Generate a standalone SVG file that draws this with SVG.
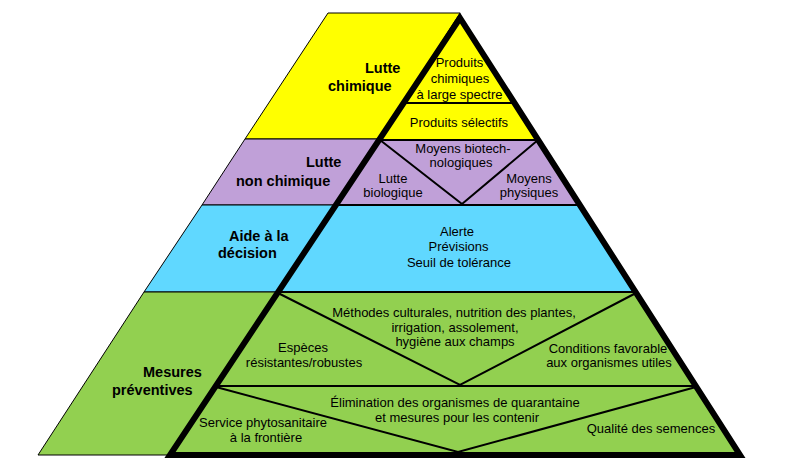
<svg xmlns="http://www.w3.org/2000/svg" width="800" height="471" viewBox="0 0 800 471">
<style>
.back{stroke:#000;stroke-width:1;stroke-linejoin:miter}
.y{fill:#FFFF00}
.p{fill:#C0A0D8}
.b{fill:#60D8FF}
.g{fill:#92D050}
.ln{stroke:#000;stroke-width:2;fill:none}
.edge{stroke:#000;stroke-width:6;fill:none;stroke-linejoin:miter;stroke-miterlimit:10}
.tb{font-family:"Liberation Sans",Arial,sans-serif;font-size:14.5px;font-weight:bold;fill:#000}
.t{font-family:"Liberation Sans",Arial,sans-serif;font-size:13px;fill:#000;text-anchor:middle}
</style>
<rect width="800" height="471" fill="#fff"/>
<g id="back">
  <g id="back-chimique">
    <polygon class="back y" points="328,13 460,13 380,139 245,139"/>
    <text class="tb" x="365" y="73">Lutte</text>
    <text class="tb" x="328" y="91">chimique</text>
  </g>
  <g id="back-nonchimique">
    <polygon class="back p" points="245,139 380,139 336,205 202,205"/>
    <text class="tb" x="306" y="167">Lutte</text>
    <text class="tb" x="236" y="186">non chimique</text>
  </g>
  <g id="back-decision">
    <polygon class="back b" points="202,205 336,205 278,292 144,292"/>
    <text class="tb" x="229" y="241">Aide à la</text>
    <text class="tb" x="218" y="258">décision</text>
  </g>
  <g id="back-preventives">
    <polygon class="back g" points="144,292 278,292 170,455 38,455"/>
    <text class="tb" x="143" y="377">Mesures</text>
    <text class="tb" x="112" y="395">préventives</text>
  </g>
</g>
<g id="front-fills">
  <polygon class="y" points="460,18 514.5,103 403.6,103"/>
  <polygon class="y" points="403.6,103 514.5,103 537.5,139 380,139"/>
  <polygon class="p" points="380,139 537.5,139 580,205 336,205"/>
  <polygon class="b" points="336,205 580,205 635.5,292 278,292"/>
  <polygon class="g" points="278,292 635.5,292 740,455 170,455"/>
</g>
<g id="connectors">
  <line class="ln" x1="403" y1="103" x2="515" y2="103"/>
  <line class="ln" x1="380" y1="140" x2="538" y2="140"/>
  <line class="ln" x1="336" y1="205" x2="580" y2="205"/>
  <line class="ln" x1="278" y1="292" x2="636" y2="292"/>
  <line class="ln" x1="216" y1="386" x2="696" y2="386"/>
  <polyline class="ln" points="380,140 462,204 538,140"/>
  <polyline class="ln" points="278,293 460,385 636,293"/>
  <polyline class="ln" points="216,387 458,452 696,387"/>
</g>
<g id="n-large-spectre">
  <text class="t" x="459.5" y="67">Produits</text>
  <text class="t" x="460" y="83">chimiques</text>
  <text class="t" x="459.5" y="99">à large spectre</text>
</g>
<g id="n-selectifs">
  <text class="t" x="459" y="127">Produits sélectifs</text>
</g>
<g id="n-biotech">
  <text class="t" x="463" y="153">Moyens biotech-</text>
  <text class="t" x="461" y="167">nologiques</text>
</g>
<g id="n-biologique">
  <text class="t" x="393" y="183">Lutte</text>
  <text class="t" x="393" y="197">biologique</text>
</g>
<g id="n-physiques">
  <text class="t" x="529" y="183">Moyens</text>
  <text class="t" x="529" y="197">physiques</text>
</g>
<g id="n-decision">
  <text class="t" x="457" y="236">Alerte</text>
  <text class="t" x="458.5" y="251">Prévisions</text>
  <text class="t" x="459" y="267">Seuil de tolérance</text>
</g>
<g id="n-methodes">
  <text class="t" x="454" y="317">Méthodes culturales, nutrition des plantes,</text>
  <text class="t" x="455" y="332">irrigation, assolement,</text>
  <text class="t" x="455" y="346">hygiène aux champs</text>
</g>
<g id="n-especes">
  <text class="t" x="303" y="352">Espèces</text>
  <text class="t" x="304" y="367">résistantes/robustes</text>
</g>
<g id="n-conditions">
  <text class="t" x="608" y="353">Conditions favorable</text>
  <text class="t" x="609" y="367">aux organismes utiles</text>
</g>
<g id="n-elimination">
  <text class="t" x="455" y="407">Élimination des organismes de quarantaine</text>
  <text class="t" x="457" y="422">et mesures pour les contenir</text>
</g>
<g id="n-service">
  <text class="t" x="263" y="427">Service phytosanitaire</text>
  <text class="t" x="266" y="442">à la frontière</text>
</g>
<g id="n-qualite">
  <text class="t" x="651" y="433">Qualité des semences</text>
</g>
<g id="triangle">
  <polygon class="edge" points="460,18 740,455 170,455"/>
</g>
</svg>
